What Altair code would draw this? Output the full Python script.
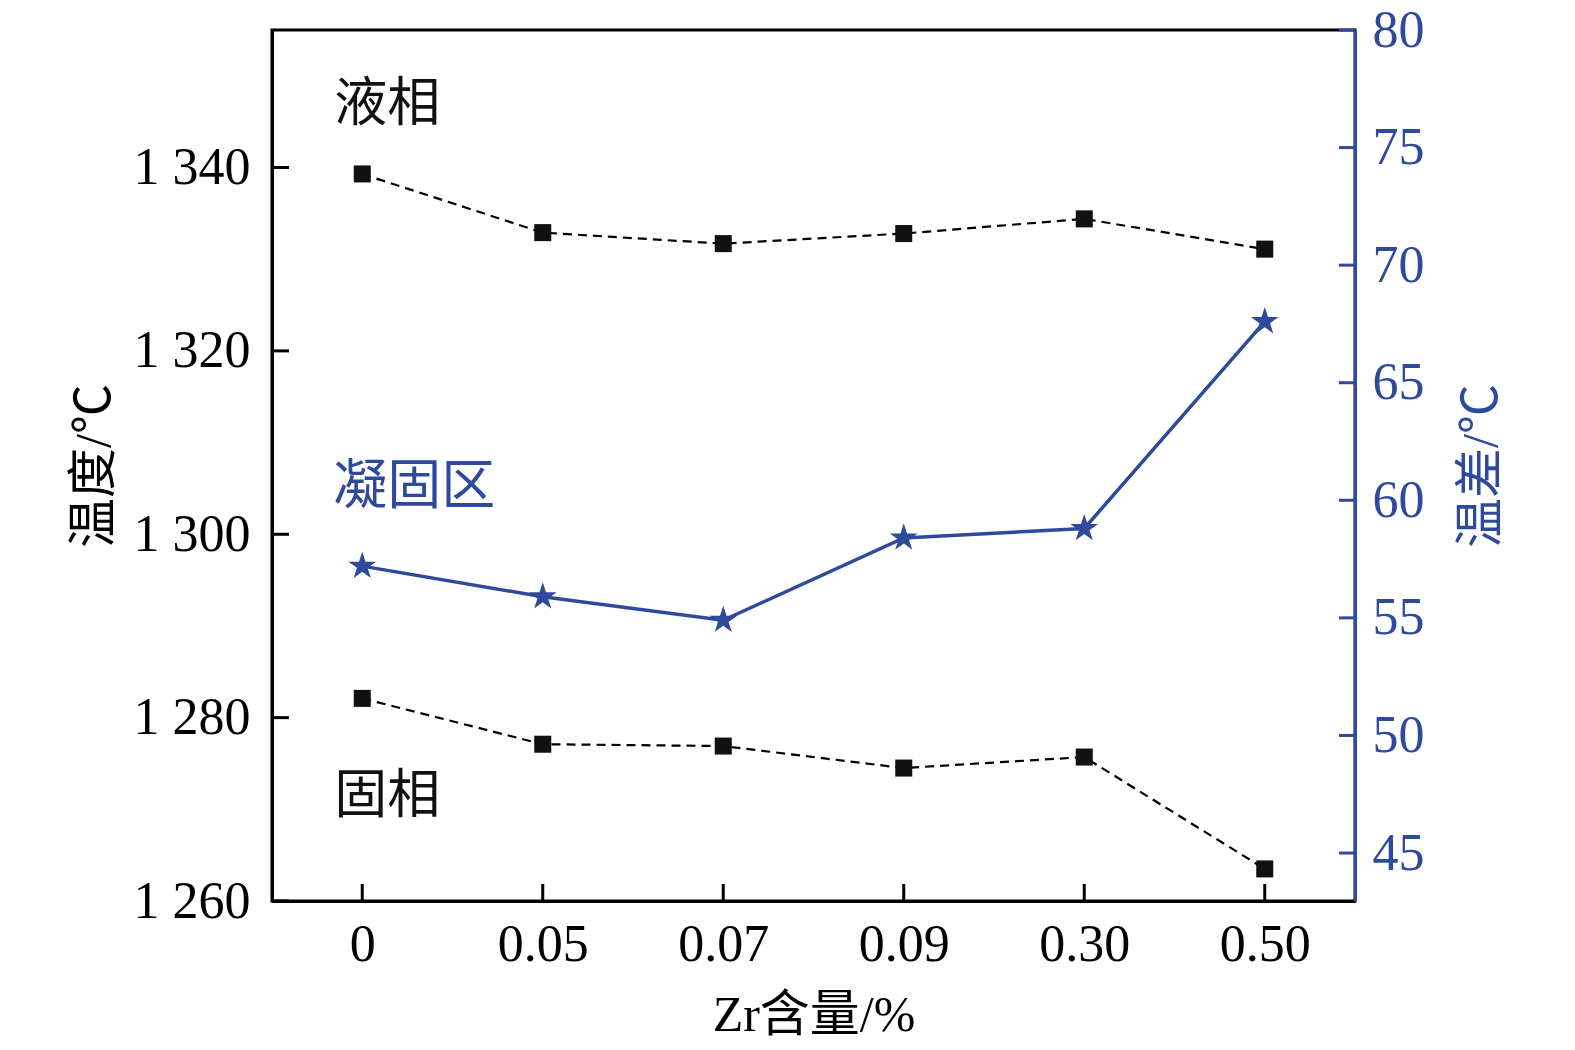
import altair as alt
import pandas as pd

# ---- data ----
zr = ["0", "0.05", "0.07", "0.09", "0.30", "0.50"]
liquidus = [1339.3, 1332.9, 1331.7, 1332.8, 1334.4, 1331.1]
solidus = [1282.1, 1277.1, 1276.9, 1274.5, 1275.7, 1263.5]
delta_t = [57.2, 55.9, 54.9, 58.4, 58.8, 67.6]

left_ticks = [1260, 1280, 1300, 1320, 1340]
right_ticks = [45, 50, 55, 60, 65, 70, 75, 80]
left_domain = [1260, 1355]
right_domain = [42.96, 80]

ann_text = ["液相", "固相"]
ann_temp = [1346.8, 1271.3]
zone_text = ["凝固区"]
zone_temp = [1305.0]

BLUE = "#2f4a9c"
FONT = "Liberation Serif, Times New Roman, Noto Sans CJK SC, serif"
W, H = 1083, 871
STAR = ("M0,-1 L0.2245,-0.309 L0.951,-0.309 L0.363,0.118 L0.588,0.809 L0,0.382 "
        "L-0.588,0.809 L-0.363,0.118 L-0.951,-0.309 L-0.2245,-0.309 Z")

liq_df = pd.DataFrame({"zr": zr, "temp": liquidus})
sol_df = pd.DataFrame({"zr": zr, "temp": solidus})
dt_df = pd.DataFrame({"zr": zr, "dt": delta_t})
lt_df = pd.DataFrame({"temp": left_ticks})
rt_df = pd.DataFrame({"dt": right_ticks})
xt_df = pd.DataFrame({"zr": zr})
ann_df = pd.DataFrame({"zr": [zr[0]] * len(ann_text), "temp": ann_temp, "t": ann_text})
zone_df = pd.DataFrame({"zr": [zr[0]], "temp": zone_temp, "t": zone_text})

xscale = alt.Scale(type="point", padding=0.5, domain=zr)
xaxis = alt.Axis(title="Zr含量/%", orient="bottom", labelAngle=0, ticks=False, grid=False,
                 domainColor="black", domainWidth=3,
                 labelFontSize=52, labelPadding=18, labelColor="black",
                 titleFontSize=50, titlePadding=20, titleColor="black",
                 titleFontWeight="normal")


def X():
    return alt.X("zr:N", sort=zr, scale=xscale, axis=xaxis)


lscale = alt.Scale(domain=left_domain, nice=False, zero=False)
rscale = alt.Scale(domain=right_domain, nice=False, zero=False)
laxis = alt.Axis(title="温度/℃", orient="left", values=left_ticks, ticks=False, grid=False,
                 domainColor="black", domainWidth=3,
                 labelExpr="replace(format(datum.value, ','), ',', ' ')",
                 labelFontSize=52, labelPadding=22, labelColor="black",
                 titleFontSize=50, titlePadding=14, titleColor="black",
                 titleFontWeight="normal")
raxis = alt.Axis(title="温差/℃", orient="right", values=right_ticks, ticks=False,
                 grid=False, domainColor=BLUE, domainWidth=3,
                 labelFontSize=52, labelPadding=17, labelColor=BLUE,
                 titleFontSize=50, titlePadding=32, titleColor=BLUE,
                 titleAngle=270, titleBaseline="top", titleFontWeight="normal")


def YL(axis=False):
    return alt.Y("temp:Q", scale=lscale, axis=laxis if axis else None)


def YR(axis=False):
    return alt.Y("dt:Q", scale=rscale, axis=raxis if axis else None)


dash = dict(color="black", strokeWidth=2.2, strokeDash=[9, 6])
sq = dict(shape="square", filled=True, color="#111111", size=290, opacity=1)

liq_line = alt.Chart(liq_df).mark_line(**dash).encode(x=X(), y=YL(True))
sol_line = alt.Chart(sol_df).mark_line(**dash).encode(x=X(), y=YL())
liq_pts = alt.Chart(liq_df).mark_point(**sq).encode(x=X(), y=YL())
sol_pts = alt.Chart(sol_df).mark_point(**sq).encode(x=X(), y=YL())

dt_line = alt.Chart(dt_df).mark_line(color=BLUE, strokeWidth=3.5).encode(x=X(), y=YR(True))
dt_pts = alt.Chart(dt_df).mark_point(
    shape=STAR, filled=True, color=BLUE, size=850, opacity=1
).encode(x=X(), y=YR())

ann = alt.Chart(ann_df).mark_text(
    align="left", baseline="middle", dx=-28, fontSize=53, font=FONT, color="#111111"
).encode(x=X(), y=YL(), text="t:N")
zone = alt.Chart(zone_df).mark_text(
    align="left", baseline="middle", dx=-29, fontSize=54, font=FONT, color=BLUE
).encode(x=X(), y=YL(), text="t:N")

xticks = alt.Chart(xt_df).mark_rule(color="black", strokeWidth=3).encode(
    x=X(), y=alt.value(H), y2=alt.value(H - 17))
lticks = alt.Chart(lt_df).mark_rule(color="black", strokeWidth=3).encode(
    y=YL(), x=alt.value(0), x2=alt.value(17))
rticks = alt.Chart(rt_df).mark_rule(color=BLUE, strokeWidth=3).encode(
    y=YR(), x=alt.value(W - 16), x2=alt.value(W))

chart = alt.layer(
    liq_line, dt_line, sol_line, liq_pts, sol_pts, dt_pts, ann, zone, xticks, lticks, rticks
).resolve_scale(y="independent").properties(
    width=W, height=H,
    autosize=alt.AutoSizeParams(type="none"),
    padding={"left": 264, "top": 22, "right": 212, "bottom": 140},
    background="white",
).configure_view(
    stroke="black", strokeWidth=3
).configure_axis(
    labelFont=FONT, titleFont=FONT
)

chart.save("out.html", embed_options={"renderer": "svg", "actions": False})
